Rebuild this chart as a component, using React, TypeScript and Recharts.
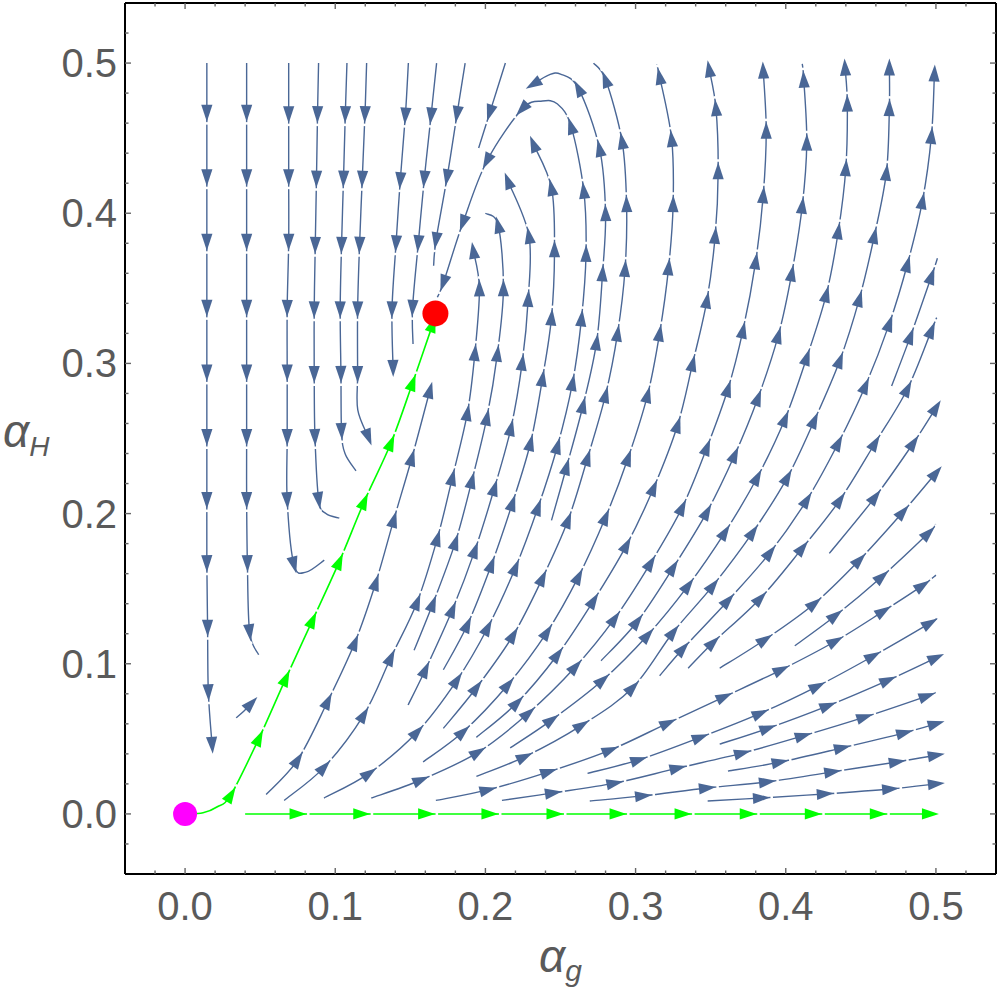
import React from 'react';
import { ComposedChart, Line, XAxis, YAxis, ReferenceDot } from 'recharts';

// frame ticks (minor every 0.02, labels on the 0.1 marks)
const frameTicks = [-0.02, 0, 0.02, 0.04, 0.06, 0.08, 0.1, 0.12, 0.14, 0.16, 0.18, 0.2, 0.22, 0.24, 0.26, 0.28, 0.3, 0.32, 0.34, 0.36, 0.38, 0.4, 0.42, 0.44, 0.46, 0.48, 0.5, 0.52];

// streamlines: [alpha_g, alpha_H]; every point after the first carries an arrow unless it has a third value 0
const downLines = [
  [[0.0145, 0.5], [0.0145, 0.467], [0.0145, 0.424], [0.0145, 0.381], [0.0145, 0.337], [0.0145, 0.294], [0.0145, 0.251], [0.0145, 0.209], [0.0145, 0.167], [0.015, 0.124], [0.0155, 0.081], [0.018, 0.046]],
  [[0.041, 0.5], [0.041, 0.467], [0.041, 0.424], [0.041, 0.381], [0.041, 0.337], [0.041, 0.294], [0.041, 0.251], [0.041, 0.209], [0.0415, 0.167], [0.043, 0.121], [0.049, 0.106, 0]],
  [[0.069, 0.5], [0.069, 0.466], [0.069, 0.424], [0.069, 0.381], [0.068, 0.337], [0.068, 0.294], [0.068, 0.251], [0.068, 0.209], [0.0725, 0.166], [0.0805, 0.161, 0], [0.0927, 0.169, 0]],
  [[0.0889, 0.5], [0.0882, 0.466], [0.0875, 0.423], [0.0867, 0.379], [0.086, 0.336], [0.086, 0.293], [0.0865, 0.251], [0.089, 0.209], [0.0938, 0.2, 0], [0.1027, 0.197, 0]],
  [[0.1078, 0.5], [0.1067, 0.466], [0.1055, 0.423], [0.1042, 0.379], [0.1033, 0.336], [0.1038, 0.293], [0.1042, 0.255], [0.1065, 0.24, 0], [0.1138, 0.2285, 0]],
  [[0.1209, 0.5], [0.1198, 0.466], [0.118, 0.423], [0.1162, 0.379], [0.1149, 0.336], [0.1149, 0.293], [0.115, 0.269, 0], [0.122, 0.251]],
  [[0.1487, 0.5], [0.1467, 0.465], [0.1433, 0.422], [0.1405, 0.38], [0.1378, 0.336], [0.1385, 0.297]],
  [[0.1675, 0.5], [0.1638, 0.465], [0.1593, 0.423], [0.1553, 0.38], [0.1515, 0.337], [0.1518, 0.313, 0]],
  [[0.1865, 0.5], [0.1811, 0.466], [0.1745, 0.424], [0.1671, 0.382], [0.1655, 0.365, 0]],
  [[0.2133, 0.5], [0.2029, 0.467], [0.1955, 0.4435, 0]],
];

const spiralLines = [
  [[0.054, 0.013], [0.075, 0.036], [0.095, 0.075], [0.113, 0.114], [0.127, 0.154], [0.139, 0.196], [0.151, 0.237], [0.163, 0.282]],
  [[0.066, 0.009], [0.0925, 0.031], [0.119, 0.066], [0.137, 0.104], [0.1545, 0.141], [0.168, 0.1835], [0.178, 0.224], [0.188, 0.267], [0.193, 0.307], [0.196, 0.35], [0.192, 0.375]],
  [[0.1525, 0.109], [0.165, 0.14], [0.18, 0.181], [0.191, 0.222], [0.201, 0.264], [0.208, 0.3065], [0.212, 0.35], [0.2085, 0.392], [0.2, 0.4, 0]],
  [[0.1485, 0.0725], [0.16, 0.096], [0.178, 0.136], [0.193, 0.1755], [0.206, 0.217], [0.217, 0.257], [0.2245, 0.3005], [0.2285, 0.343], [0.229, 0.385], [0.215, 0.4215]],
  [[0.172, 0.096], [0.188, 0.126], [0.204, 0.166], [0.218, 0.207], [0.23, 0.247], [0.238, 0.29], [0.244, 0.3305], [0.246, 0.376], [0.244, 0.417], [0.232, 0.446]],
  [[0.0925, 0.0106], [0.1225, 0.027], [0.1545, 0.0545], [0.181, 0.089], [0.2015, 0.124], [0.22, 0.164], [0.235, 0.204], [0.248, 0.245], [0.258, 0.287], [0.264, 0.33], [0.267, 0.373], [0.2655, 0.415], [0.257, 0.458], [0.248, 0.4727, 0], [0.238, 0.4747, 0], [0.2245, 0.4694], [0.201, 0.4348], [0.185, 0.3936], [0.172, 0.3537], [0.168, 0.344, 0]],
  [[0.244, 0.1955], [0.254, 0.231], [0.265, 0.272], [0.274, 0.314], [0.278, 0.36], [0.28, 0.4], [0.276, 0.443], [0.262, 0.483], [0.25, 0.4927, 0], [0.242, 0.492, 0], [0.232, 0.486]],
  [[0.172, 0.057], [0.194, 0.084], [0.2185, 0.119], [0.238, 0.157], [0.255, 0.1955], [0.268, 0.237], [0.28, 0.279], [0.288, 0.32], [0.293, 0.363], [0.294, 0.406], [0.291, 0.448], [0.28, 0.489], [0.272, 0.5, 0]],
  [[0.034, 0.064], [0.0387, 0.068, 0], [0.044, 0.0735]],
];

const topLines = [
  [[0.1585, 0.0346], [0.185, 0.0545], [0.215, 0.086], [0.241, 0.121], [0.262, 0.158], [0.28, 0.1975], [0.295, 0.237], [0.308, 0.279], [0.316, 0.32], [0.322, 0.364], [0.325, 0.406], [0.324, 0.4495], [0.316, 0.491], [0.314, 0.499, 0]],
  [[0.194, 0.051], [0.221, 0.074], [0.248, 0.106], [0.272, 0.142], [0.294, 0.179], [0.312, 0.217], [0.328, 0.259], [0.338, 0.3], [0.3475, 0.342], [0.353, 0.385], [0.355, 0.428], [0.3535, 0.47], [0.349, 0.496]],
  [[0.124, 0.0106], [0.157, 0.0226], [0.195, 0.041], [0.2285, 0.067], [0.26, 0.098], [0.286, 0.13], [0.31, 0.167], [0.331, 0.204], [0.3475, 0.244], [0.3615, 0.283], [0.3715, 0.322], [0.38, 0.368], [0.385, 0.412], [0.387, 0.455], [0.385, 0.495]],
  [[0.277, 0.102], [0.301, 0.128], [0.325, 0.164], [0.3475, 0.201], [0.366, 0.239], [0.3815, 0.277], [0.395, 0.3185], [0.404, 0.36], [0.411, 0.405], [0.414, 0.447], [0.412, 0.489], [0.411, 0.4995, 0]],
  [[0.2165, 0.044], [0.244, 0.0625], [0.278, 0.089], [0.308, 0.119], [0.335, 0.152], [0.3595, 0.1875], [0.381, 0.224], [0.3995, 0.263], [0.414, 0.304], [0.427, 0.346], [0.435, 0.388], [0.44, 0.43], [0.441, 0.473], [0.4395, 0.497]],
  [[0.194, 0.025], [0.226, 0.038], [0.264, 0.059], [0.298, 0.084], [0.325, 0.121], [0.3515, 0.152], [0.378, 0.1875], [0.401, 0.224], [0.419, 0.262], [0.436, 0.302], [0.449, 0.343], [0.459, 0.385], [0.467, 0.427], [0.469, 0.47], [0.469, 0.497]],
  [[0.316, 0.092], [0.3315, 0.11], [0.3615, 0.142], [0.3895, 0.174], [0.414, 0.209], [0.435, 0.247], [0.453, 0.285], [0.469, 0.3265], [0.481, 0.366], [0.491, 0.408], [0.497, 0.4515], [0.499, 0.493]],
];

const fanLines = [
  [[0.4705, 0.285], [0.483, 0.318], [0.497, 0.358], [0.501, 0.37, 0]],
  [[0.335, 0.097], [0.3515, 0.114], [0.383, 0.1435], [0.411, 0.177], [0.436, 0.209], [0.4595, 0.247], [0.481, 0.283], [0.497, 0.322], [0.5005, 0.3305, 0]],
  [[0.429, 0.1735], [0.4595, 0.211], [0.485, 0.247], [0.5, 0.2705]],
  [[0.356, 0.097], [0.386, 0.116], [0.419, 0.14], [0.449, 0.169], [0.478, 0.201], [0.5, 0.227]],
  [[0.406, 0.112], [0.433, 0.132], [0.464, 0.158], [0.495, 0.187], [0.5, 0.193, 0]],
  [[0.167, 0.009], [0.2015, 0.016], [0.242, 0.028], [0.283, 0.0425], [0.3215, 0.0605], [0.359, 0.078], [0.397, 0.096], [0.433, 0.115], [0.465, 0.135], [0.491, 0.152], [0.5, 0.159, 0]],
  [[0.268, 0.027], [0.302, 0.036], [0.343, 0.051], [0.383, 0.067], [0.421, 0.085], [0.458, 0.105], [0.496, 0.127], [0.5, 0.13, 0]],
  [[0.356, 0.0465], [0.388, 0.057], [0.428, 0.072], [0.468, 0.089], [0.5, 0.104]],
  [[0.211, 0.009], [0.245, 0.014], [0.286, 0.0205], [0.328, 0.0305], [0.371, 0.0405], [0.4115, 0.052], [0.4525, 0.0645], [0.494, 0.0785], [0.5, 0.081, 0]],
  [[0.3615, 0.0285], [0.396, 0.0345], [0.4375, 0.044], [0.479, 0.054], [0.5, 0.06]],
  [[0.2695, 0.0086], [0.305, 0.012], [0.3475, 0.0173], [0.3875, 0.0213], [0.431, 0.028], [0.474, 0.0346], [0.5, 0.039]],
  [[0.348, 0.0086], [0.3835, 0.0106], [0.426, 0.0133], [0.4695, 0.0166], [0.5, 0.02]],
];

const greenLines = [
  [[0, 0], [0.012, 0.0008, 0], [0.0215, 0.0048, 0], [0.0305, 0.0127], [0.0493, 0.0505], [0.0671, 0.0903], [0.0849, 0.129], [0.1027, 0.168], [0.1193, 0.208], [0.1371, 0.247], [0.1515, 0.287], [0.1649, 0.326]],
  [[0.04, 0], [0.0749, 0], [0.1173, 0], [0.1605, 0], [0.2027, 0], [0.246, 0], [0.288, 0], [0.3313, 0], [0.3747, 0], [0.418, 0], [0.4613, 0], [0.496, 0]],
];

const fixedPoints = [
  { x: 0, y: 0, color: '#ff00ff', r: 12 },
  { x: 0.1667, y: 0.3333, color: '#ff0000', r: 13 },
];

const BLUE = '#4a6796';
const GREEN = '#00ff00';
const GREY = '#5a5a5a';
const DOMAIN: [number, number] = [-0.04, 0.54];
const FONT = '"Liberation Sans", Arial, sans-serif';

// Catmull-Rom curve so the streamlines bend smoothly through the read points
const catmullRom = (ctx: any) => {
  let pts: number[][] = [];
  return {
    areaStart() {},
    areaEnd() {},
    lineStart() { pts = []; },
    point(x: number, y: number) { pts.push([+x, +y]); },
    lineEnd() {
      if (!pts.length) return;
      ctx.moveTo(pts[0][0], pts[0][1]);
      for (let i = 0; i < pts.length - 1; i++) {
        const p0 = pts[i - 1] || pts[i];
        const p1 = pts[i];
        const p2 = pts[i + 1];
        const p3 = pts[i + 2] || p2;
        ctx.bezierCurveTo(
          p1[0] + (p2[0] - p0[0]) / 6, p1[1] + (p2[1] - p0[1]) / 6,
          p2[0] - (p3[0] - p1[0]) / 6, p2[1] - (p3[1] - p1[1]) / 6,
          p2[0], p2[1]
        );
      }
    },
  };
};

// arrowhead at each flagged point, pointing along the local direction, with a small gap after the tip
const arrowDot = (pts: number[][], color: string) => (props: any) => {
  const { cx, cy, index } = props;
  const p = pts[index];
  if (!p || index === 0 || p[2] === 0 || cx == null || cy == null) return <g key={`n${index}`} />;
  const prev = pts[index - 1];
  const next = pts[index + 1] || p;
  const ang = (Math.atan2(-(next[1] - prev[1]), next[0] - prev[0]) * 180) / Math.PI;
  return (
    <g key={`a${index}`} transform={`translate(${cx},${cy}) rotate(${ang})`}>
      {index < pts.length - 1 && <line x1={9.5} x2={12} y1={0} y2={0} stroke="#fff" strokeWidth={3} />}
      <polygon points="9,0 -8,-5.6 -8,5.6" fill={color} />
    </g>
  );
};

const isMajor = (v: number) => Math.abs(v * 10 - Math.round(v * 10)) < 1e-6;

const BottomTick = (props: any) => {
  const { x, y, payload } = props;
  const v = payload.value;
  const len = isMajor(v) ? 6 : 3.5;
  return (
    <g>
      <line x1={x} x2={x} y1={y} y2={y - len} stroke="#666" strokeWidth={1.4} />
      {isMajor(v) && v >= 0 && v <= 0.5 && (
        <text x={x} y={y + 46} textAnchor="middle" fontSize={40} fontFamily={FONT} fill={GREY}>
          {v.toFixed(1)}
        </text>
      )}
    </g>
  );
};

const TopTick = (props: any) => {
  const { x, y, payload } = props;
  const len = isMajor(payload.value) ? 6 : 3.5;
  return <line x1={x} x2={x} y1={y} y2={y + len} stroke="#666" strokeWidth={1.4} />;
};

const LeftTick = (props: any) => {
  const { x, y, payload } = props;
  const v = payload.value;
  const len = isMajor(v) ? 6 : 3.5;
  return (
    <g>
      <line x1={x} x2={x + len} y1={y} y2={y} stroke="#666" strokeWidth={1.4} />
      {isMajor(v) && v >= 0 && v <= 0.5 && (
        <text x={x - 8} y={y + 14} textAnchor="end" fontSize={40} fontFamily={FONT} fill={GREY}>
          {v.toFixed(1)}
        </text>
      )}
    </g>
  );
};

const RightTick = (props: any) => {
  const { x, y, payload } = props;
  const len = isMajor(payload.value) ? 6 : 3.5;
  return <line x1={x} x2={x - len} y1={y} y2={y} stroke="#666" strokeWidth={1.4} />;
};

const XTitle = (props: any) => {
  const vb = props.viewBox || { x: 125, y: 874, width: 872 };
  return (
    <text x={vb.x + vb.width / 2} y={vb.y + 98} textAnchor="middle" fontSize={46} fontStyle="italic" fontFamily={FONT} fill={GREY}>
      α<tspan fontSize={30} dy={9}>g</tspan>
    </text>
  );
};

const YTitle = (props: any) => {
  const vb = props.viewBox || { x: 0, y: 2, height: 872 };
  return (
    <text x={3} y={vb.y + vb.height / 2 + 8} textAnchor="start" fontSize={46} fontStyle="italic" fontFamily={FONT} fill={GREY}>
      α<tspan fontSize={28} dy={9}>H</tspan>
    </text>
  );
};

const toRows = (pts: number[][]) => pts.map((p) => ({ x: p[0], y: p[1] }));

const renderLines = (lines: number[][][], color: string, width: number, prefix: string) =>
  lines.map((pts, i) => (
    <Line
      key={`${prefix}${i}`}
      data={toRows(pts)}
      dataKey="y"
      xAxisId="b"
      yAxisId="l"
      type={catmullRom as any}
      stroke={color}
      strokeWidth={width}
      dot={arrowDot(pts, color)}
      activeDot={false}
      isAnimationActive={false}
      legendType="none"
    />
  ));

const App = () => {
  return (
    <div style={{ position: 'absolute', left: 0, top: 0, width: 1000, height: 993, background: '#fff' }}>
      <ComposedChart width={1000} height={993} margin={{ top: 2, right: 3, bottom: 0, left: 0 }}>
        <XAxis
          xAxisId="b"
          dataKey="x"
          type="number"
          domain={DOMAIN}
          allowDataOverflow
          ticks={frameTicks}
          interval={0}
          height={119}
          tickSize={0}
          tickMargin={0}
          tickLine={false}
          axisLine={{ stroke: '#000', strokeWidth: 2 }}
          tick={BottomTick}
          label={XTitle}
        />
        <XAxis
          xAxisId="t"
          orientation="top"
          dataKey="x"
          type="number"
          domain={DOMAIN}
          allowDataOverflow
          ticks={frameTicks}
          interval={0}
          height={1}
          tickSize={0}
          tickMargin={0}
          tickLine={false}
          axisLine={{ stroke: '#000', strokeWidth: 2 }}
          tick={TopTick}
        />
        <YAxis
          yAxisId="l"
          type="number"
          domain={DOMAIN}
          allowDataOverflow
          ticks={frameTicks}
          interval={0}
          width={125}
          tickSize={0}
          tickMargin={0}
          tickLine={false}
          axisLine={{ stroke: '#000', strokeWidth: 2 }}
          tick={LeftTick}
          label={YTitle}
        />
        <YAxis
          yAxisId="r"
          orientation="right"
          type="number"
          domain={DOMAIN}
          allowDataOverflow
          ticks={frameTicks}
          interval={0}
          width={1}
          tickSize={0}
          tickMargin={0}
          tickLine={false}
          axisLine={{ stroke: '#000', strokeWidth: 2 }}
          tick={RightTick}
        />
        {/* invisible series so the top and right frame axes get drawn */}
        <Line
          data={toRows(greenLines[1])}
          dataKey="y"
          xAxisId="t"
          yAxisId="r"
          stroke="none"
          dot={false}
          activeDot={false}
          isAnimationActive={false}
          legendType="none"
        />
        {renderLines(downLines, BLUE, 1.4, 'd')}
        {renderLines(spiralLines, BLUE, 1.4, 's')}
        {renderLines(topLines, BLUE, 1.4, 't')}
        {renderLines(fanLines, BLUE, 1.4, 'f')}
        {renderLines(greenLines, GREEN, 1.6, 'g')}
        {fixedPoints.map((p, i) => (
          <ReferenceDot key={`p${i}`} xAxisId="b" yAxisId="l" x={p.x} y={p.y} r={p.r} fill={p.color} stroke="none" />
        ))}
      </ComposedChart>
    </div>
  );
};

export default App;
